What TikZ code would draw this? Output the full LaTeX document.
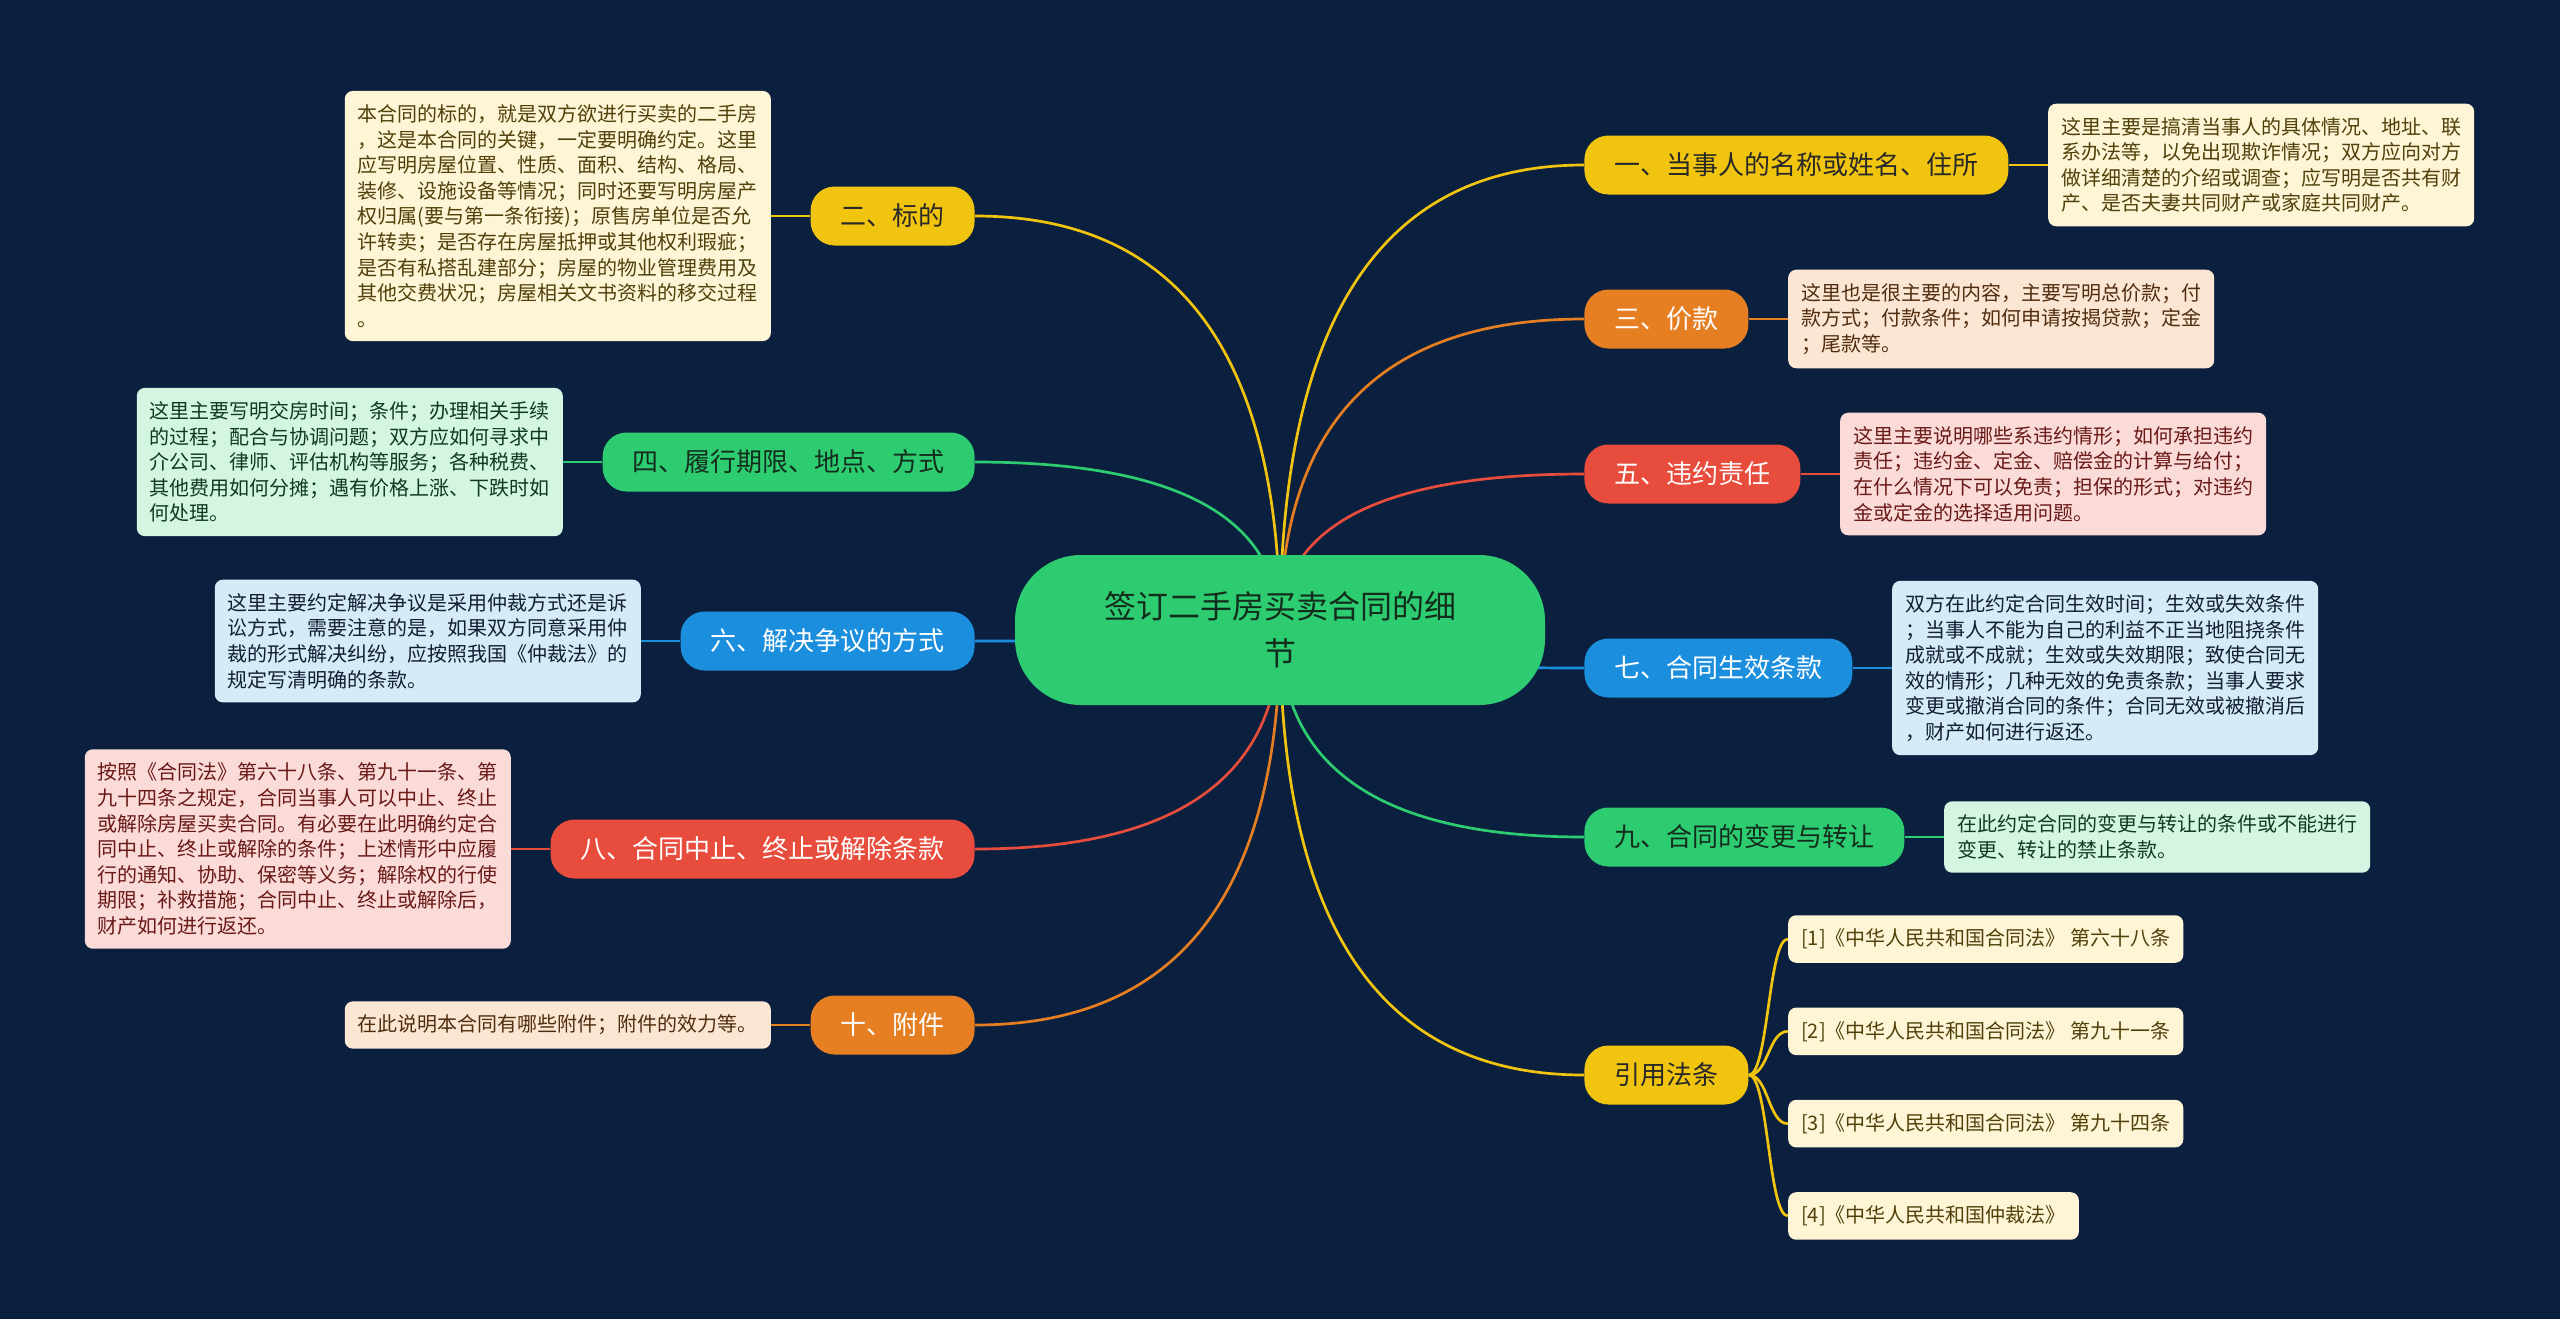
\documentclass[tikz,border=0pt]{standalone}
\usepackage{fontspec}
\setmainfont{Noto Sans CJK SC}
\usepackage{xcolor}
\usepackage{tikz}
\usetikzlibrary{positioning,calc,backgrounds}

\definecolor{navy}{RGB}{11,32,62}
\definecolor{yel}{RGB}{241,196,15}
\definecolor{ora}{RGB}{230,126,34}
\definecolor{rd}{RGB}{231,76,60}
\definecolor{blu}{RGB}{27,143,222}
\definecolor{grn}{RGB}{46,204,113}
\definecolor{darktxt}{RGB}{40,40,40}
\definecolor{greentxt}{RGB}{18,45,28}
\definecolor{creamfill}{RGB}{253,245,213}
\definecolor{peachfill}{RGB}{251,229,211}
\definecolor{pinkfill}{RGB}{250,219,216}
\definecolor{bluefill}{RGB}{214,234,248}
\definecolor{mintfill}{RGB}{213,245,227}
\definecolor{creamtxt}{RGB}{80,64,10}
\definecolor{peachtxt}{RGB}{80,45,15}
\definecolor{pinktxt}{RGB}{105,25,22}
\definecolor{bluetxt}{RGB}{15,32,48}
\definecolor{minttxt}{RGB}{15,58,34}

\begin{document}
\begin{tikzpicture}[
      x=0.5pt, y=-0.5pt,
      node distance=19.5pt and 19.5pt,
      root/.style={fill=grn, text=greentxt, rounded corners=33pt, align=center, text width=177pt, inner xsep=44pt, minimum height=75pt, font=\fontsize{16pt}{23.5pt}\selectfont},
      branch/.style={rounded corners=12pt, minimum height=29.5pt, inner xsep=15pt, inner ysep=0pt, font=\fontsize{13pt}{15pt}\selectfont},
      leaf/.style={rounded corners=4pt, align=left, inner xsep=6.5pt, inner ysep=6.8pt, font=\fontsize{10pt}{12.8pt}\selectfont},
      cite/.style={leaf, fill=creamfill, text=creamtxt},
      link/.style={line width=1.35pt},
      mapcurve/.style={link, to path={.. controls ($(\tikztostart)!.667!(\tikztostart |- \tikztotarget)$) and ($(\tikztotarget)!.667!(\tikztostart |- \tikztotarget)$) .. (\tikztotarget)}},
      bracecurve/.style={link, to path={.. controls ($(\tikztostart)!.5!(\tikztostart -| \tikztotarget)$) and ($(\tikztotarget)!.5!(\tikztotarget -| \tikztostart)$) .. (\tikztotarget)}}
    ]
    \begin{scope}[on background layer]
      \fill[navy] (0,0) rectangle (2560,1319);
    \end{scope}
    \useasboundingbox (0,0) rectangle (2560,1319);

    \node[root] (root) at (1280,630) {签订二手房买卖合同的细\\节};

    % right branches
    \node[branch, fill=yel, text=darktxt, anchor=west] (b1) at (1584,165) {一、当事人的名称或姓名、住所};
    \node[branch, fill=ora, text=white, anchor=west] (b3) at (1584,319) {三、价款};
    \node[branch, fill=rd, text=white, anchor=west] (b5) at (1584,474) {五、违约责任};
    \node[branch, fill=blu, text=white, anchor=west] (b7) at (1584,668) {七、合同生效条款};
    \node[branch, fill=grn, text=greentxt, anchor=west] (b9) at (1584,837) {九、合同的变更与转让};
    \node[branch, fill=yel, text=darktxt, anchor=west] (bref) at (1584,1075) {引用法条};

    % left branches
    \node[branch, fill=yel, text=darktxt, anchor=east] (b2) at (975,216) {二、标的};
    \node[branch, fill=grn, text=greentxt, anchor=east] (b4) at (975,462) {四、履行期限、地点、方式};
    \node[branch, fill=blu, text=white, anchor=east] (b6) at (975,641) {六、解决争议的方式};
    \node[branch, fill=rd, text=white, anchor=east] (b8) at (975,849) {八、合同中止、终止或解除条款};
    \node[branch, fill=ora, text=white, anchor=east] (b10) at (975,1025) {十、附件};

    % right leaves
    \node[leaf, fill=creamfill, text=creamtxt, right=of b1] (l1) {这里主要是搞清当事人的具体情况、地址、联\\系办法等，以免出现欺诈情况；双方应向对方\\做详细清楚的介绍或调查；应写明是否共有财\\产、是否夫妻共同财产或家庭共同财产。};
    \node[leaf, fill=peachfill, text=peachtxt, right=of b3] (l3) {这里也是很主要的内容，主要写明总价款；付\\款方式；付款条件；如何申请按揭贷款；定金\\；尾款等。};
    \node[leaf, fill=pinkfill, text=pinktxt, right=of b5] (l5) {这里主要说明哪些系违约情形；如何承担违约\\责任；违约金、定金、赔偿金的计算与给付；\\在什么情况下可以免责；担保的形式；对违约\\金或定金的选择适用问题。};
    \node[leaf, fill=bluefill, text=bluetxt, right=of b7] (l7) {双方在此约定合同生效时间；生效或失效条件\\；当事人不能为自己的利益不正当地阻挠条件\\成就或不成就；生效或失效期限；致使合同无\\效的情形；几种无效的免责条款；当事人要求\\变更或撤消合同的条件；合同无效或被撤消后\\，财产如何进行返还。};
    \node[leaf, fill=mintfill, text=minttxt, right=of b9] (l9) {在此约定合同的变更与转让的条件或不能进行\\变更、转让的禁止条款。};

    \node[cite, right=of bref, yshift=68pt] (r1) {[1]《中华人民共和国合同法》 第六十八条};
    \node[cite, below=22pt of r1.south west, anchor=north west] (r2) {[2]《中华人民共和国合同法》 第九十一条};
    \node[cite, below=22pt of r2.south west, anchor=north west] (r3) {[3]《中华人民共和国合同法》 第九十四条};
    \node[cite, below=22pt of r3.south west, anchor=north west] (r4) {[4]《中华人民共和国仲裁法》};

    % left leaves
    \node[leaf, fill=creamfill, text=creamtxt, left=of b2] (l2) {本合同的标的，就是双方欲进行买卖的二手房\\，这是本合同的关键，一定要明确约定。这里\\应写明房屋位置、性质、面积、结构、格局、\\装修、设施设备等情况；同时还要写明房屋产\\权归属(要与第一条衔接)；原售房单位是否允\\许转卖；是否存在房屋抵押或其他权利瑕疵；\\是否有私搭乱建部分；房屋的物业管理费用及\\其他交费状况；房屋相关文书资料的移交过程\\。};
    \node[leaf, fill=mintfill, text=minttxt, left=of b4] (l4) {这里主要写明交房时间；条件；办理相关手续\\的过程；配合与协调问题；双方应如何寻求中\\介公司、律师、评估机构等服务；各种税费、\\其他费用如何分摊；遇有价格上涨、下跌时如\\何处理。};
    \node[leaf, fill=bluefill, text=bluetxt, left=of b6] (l6) {这里主要约定解决争议是采用仲裁方式还是诉\\讼方式，需要注意的是，如果双方同意采用仲\\裁的形式解决纠纷，应按照我国《仲裁法》的\\规定写清明确的条款。};
    \node[leaf, fill=pinkfill, text=pinktxt, left=of b8] (l8) {按照《合同法》第六十八条、第九十一条、第\\九十四条之规定，合同当事人可以中止、终止\\或解除房屋买卖合同。有必要在此明确约定合\\同中止、终止或解除的条件；上述情形中应履\\行的通知、协助、保密等义务；解除权的行使\\期限；补救措施；合同中止、终止或解除后，\\财产如何进行返还。};
    \node[leaf, fill=peachfill, text=peachtxt, left=of b10] (l10) {在此说明本合同有哪些附件；附件的效力等。};

    \begin{scope}[on background layer]
      \draw[yel, mapcurve] (root.center) to (b1.west);
      \draw[ora, mapcurve] (root.center) to (b3.west);
      \draw[rd, mapcurve] (root.center) to (b5.west);
      \draw[blu, mapcurve] (root.center) to (b7.west);
      \draw[grn, mapcurve] (root.center) to (b9.west);
      \draw[yel, mapcurve] (root.center) to (bref.west);
      \draw[yel, mapcurve] (root.center) to (b2.east);
      \draw[grn, mapcurve] (root.center) to (b4.east);
      \draw[blu, mapcurve] (root.center) to (b6.east);
      \draw[rd, mapcurve] (root.center) to (b8.east);
      \draw[ora, mapcurve] (root.center) to (b10.east);

      \draw[yel, link] (b1.east) -- (l1.west);
      \draw[ora, link] (b3.east) -- (l3.west);
      \draw[rd, link] (b5.east) -- (l5.west);
      \draw[blu, link] (b7.east) -- (l7.west);
      \draw[grn, link] (b9.east) -- (l9.west);
      \draw[yel, link] (b2.west) -- (l2.east);
      \draw[grn, link] (b4.west) -- (l4.east);
      \draw[blu, link] (b6.west) -- (l6.east);
      \draw[rd, link] (b8.west) -- (l8.east);
      \draw[ora, link] (b10.west) -- (l10.east);

      \foreach \r in {r1,r2,r3,r4}
        \draw[yel, bracecurve] (bref.east) to (\r.west);
    \end{scope}
  \end{tikzpicture}
\end{document}
